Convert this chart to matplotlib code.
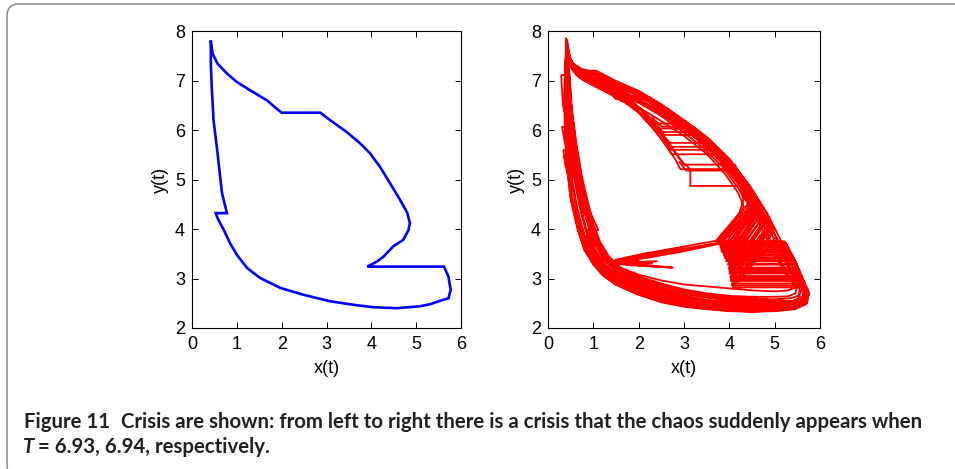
import numpy as np
import matplotlib
matplotlib.use('Agg')
import matplotlib.pyplot as plt
from matplotlib.patches import FancyBboxPatch

plt.rcParams['font.family'] = 'Liberation Sans'

# periodic orbit at T = 6.93 (x(t), y(t)), with the three impulsive jumps
blue_x = [0.42, 0.46, 0.57, 0.78, 1.00, 1.30, 1.67, 1.89, 2.00, 2.86, 3.08, 3.45,
          3.75, 3.97, 4.19, 4.42, 4.64, 4.80, 4.86, 4.83, 4.71, 4.49, 4.27, 4.12,
          3.91, 5.62, 5.72, 5.77, 5.72, 5.57, 5.31, 5.09, 4.57, 4.05, 3.67, 3.08,
          2.49, 1.97, 1.52, 1.23, 1.00, 0.85, 0.71, 0.57, 0.53, 0.78, 0.67, 0.57,
          0.48, 0.44, 0.42, 0.42]
blue_y = [7.78, 7.54, 7.34, 7.14, 6.97, 6.80, 6.60, 6.43, 6.35, 6.35, 6.20, 5.96,
          5.73, 5.53, 5.26, 4.92, 4.59, 4.33, 4.12, 3.98, 3.78, 3.65, 3.44, 3.34,
          3.24, 3.24, 3.04, 2.77, 2.60, 2.56, 2.48, 2.44, 2.40, 2.42, 2.46, 2.54,
          2.67, 2.81, 3.01, 3.21, 3.48, 3.71, 3.98, 4.22, 4.32, 4.32, 4.72, 5.53,
          6.20, 6.87, 7.34, 7.78]

# chaotic orbit at T = 6.94, one continuous stretch per sub-list
red_pieces = [
    [(0.40, 7.85), (0.44, 7.50), (0.56, 7.33), (0.72, 7.20), (1.06, 7.20), (1.50, 6.99),
     (2.00, 6.79), (2.50, 6.52), (3.00, 6.20), (3.50, 5.86), (4.00, 5.42), (4.45, 4.87),
     (4.82, 4.32), (4.98, 3.98), (4.60, 3.45), (4.05, 2.86), (5.62, 2.86), (5.76, 2.71),
     (5.70, 2.50), (5.45, 2.39), (5.00, 2.35), (4.50, 2.33), (4.00, 2.35), (3.50, 2.39),
     (3.00, 2.44), (2.50, 2.53), (2.00, 2.68), (1.50, 2.88), (1.20, 3.08), (1.00, 3.30),
     (0.80, 3.60), (0.66, 4.00), (0.51, 4.60), (0.43, 5.20), (0.38, 6.00), (0.37, 6.80),
     (0.39, 7.40),
     (0.41, 7.78), (0.47, 7.45), (0.60, 7.27), (0.85, 7.11), (1.20, 6.87), (1.52, 6.64),
     (2.08, 6.64), (2.50, 6.46), (3.00, 6.15), (3.50, 5.81), (4.00, 5.37), (4.42, 4.86),
     (4.76, 4.32), (4.90, 4.02), (4.55, 3.55), (4.02, 3.02), (5.58, 3.02), (5.73, 2.78),
     (5.68, 2.53), (5.44, 2.41), (5.00, 2.37), (4.50, 2.35), (4.00, 2.37), (3.50, 2.41),
     (3.00, 2.47), (2.50, 2.56), (2.00, 2.72), (1.50, 2.93), (1.20, 3.13), (1.00, 3.37),
     (0.84, 3.66), (1.08, 3.66), (0.92, 4.00), (0.70, 4.60), (0.56, 5.30), (0.47, 6.00),
     (0.43, 6.80), (0.43, 7.40),
     (0.42, 7.82), (0.46, 7.42), (0.55, 7.22), (0.66, 7.13), (1.00, 7.13), (1.50, 6.94),
     (2.00, 6.74), (2.50, 6.48), (3.00, 6.16), (3.50, 5.82), (4.00, 5.38), (4.40, 4.88),
     (4.70, 4.40), (4.80, 4.15), (4.45, 3.70), (4.00, 3.20), (5.52, 3.20), (5.68, 2.86),
     (5.66, 2.56), (5.42, 2.43), (5.00, 2.39), (4.50, 2.37), (4.00, 2.39), (3.50, 2.43),
     (3.00, 2.50), (2.50, 2.60), (2.00, 2.76), (1.50, 2.97), (1.20, 3.18), (0.98, 3.44),
     (0.80, 3.80), (0.66, 4.30), (0.52, 5.00), (0.44, 5.70), (0.40, 6.40), (0.40, 7.10),
     (0.43, 7.75), (0.50, 7.35), (0.66, 7.13), (1.00, 6.95), (1.50, 6.74), (1.95, 6.48),
     (2.20, 6.30), (2.37, 6.13), (3.09, 6.13), (3.50, 5.82), (4.00, 5.36), (4.35, 4.90),
     (4.60, 4.50), (4.62, 4.30), (4.30, 3.90), (3.88, 3.48), (5.38, 3.48), (5.55, 3.10),
     (5.70, 2.82), (5.64, 2.56), (5.40, 2.45), (5.00, 2.41), (4.50, 2.39), (4.00, 2.41),
     (3.50, 2.45), (3.00, 2.52), (2.50, 2.63), (2.00, 2.79), (1.50, 3.00), (1.22, 3.22),
     (1.00, 3.50), (0.86, 3.78), (1.10, 3.78), (0.95, 4.10), (0.75, 4.60), (0.60, 5.20),
     (0.50, 5.90), (0.45, 6.60), (0.44, 7.30),
     (0.42, 7.70), (0.48, 7.30), (0.64, 7.10), (1.00, 6.92), (1.50, 6.70), (1.90, 6.45),
     (2.20, 6.20), (2.42, 5.98), (2.58, 5.90), (3.39, 5.90), (3.70, 5.65), (4.05, 5.28),
     (4.35, 4.85), (4.52, 4.50), (4.50, 4.25), (4.20, 3.92), (3.80, 3.62), (5.30, 3.62),
     (5.50, 3.20), (5.67, 2.88), (5.66, 2.60), (5.46, 2.46), (5.00, 2.42), (4.50, 2.40),
     (4.00, 2.42), (3.50, 2.46), (3.00, 2.54), (2.50, 2.65), (2.00, 2.82), (1.55, 3.02),
     (1.25, 3.25), (1.02, 3.55), (0.84, 3.95), (0.70, 4.45), (0.56, 5.10), (0.47, 5.80),
     (0.44, 6.50), (0.43, 7.20),
     (0.45, 7.60), (0.58, 7.18), (0.85, 6.98), (1.30, 6.78), (1.80, 6.52), (2.20, 6.22),
     (2.50, 5.92), (2.69, 5.74), (3.57, 5.74), (3.95, 5.30), (4.25, 4.85), (4.42, 4.50),
     (4.35, 4.20), (4.05, 3.90), (3.75, 3.72), (3.00, 3.58), (2.20, 3.45), (1.70, 3.37),
     (1.35, 3.31), (2.75, 3.22), (1.75, 3.27), (2.40, 3.35), (1.60, 3.32)],
    [(0.44, 7.65), (0.55, 7.20), (0.80, 7.00), (1.20, 6.82), (1.70, 6.58), (2.10, 6.30),
     (2.45, 5.95), (2.75, 5.60), (3.00, 5.32), (3.14, 5.21), (3.14, 4.87), (4.25, 4.87),
     (4.31, 4.58), (4.22, 4.32), (4.00, 4.05), (3.73, 3.72), (5.25, 3.72), (5.45, 3.30),
     (5.62, 2.95), (5.70, 2.72), (5.60, 2.50), (5.40, 2.43), (5.00, 2.40), (4.50, 2.38),
     (4.00, 2.40), (3.50, 2.44), (3.00, 2.51), (2.50, 2.61), (2.00, 2.77), (1.50, 2.98),
     (1.20, 3.20), (0.97, 3.48), (0.80, 3.90), (0.65, 4.40), (0.53, 5.00), (0.45, 5.70),
     (0.41, 6.40), (0.41, 7.20),
     (0.40, 7.80), (0.45, 7.45), (0.58, 7.28), (0.80, 7.15), (1.20, 6.93), (1.62, 6.58),
     (2.02, 6.58), (2.50, 6.40), (3.00, 6.10), (3.50, 5.76), (4.00, 5.33), (4.40, 4.84),
     (4.72, 4.35), (4.86, 4.05), (4.50, 3.55), (4.03, 2.95), (5.60, 2.95), (5.74, 2.74),
     (5.69, 2.51), (5.44, 2.40), (5.00, 2.36), (4.50, 2.34), (4.00, 2.36), (3.50, 2.40),
     (3.00, 2.45), (2.50, 2.55), (2.00, 2.70), (1.50, 2.90), (1.20, 3.10), (1.00, 3.33),
     (0.81, 3.64), (0.67, 4.05), (0.53, 4.65), (0.44, 5.30), (0.39, 6.05), (0.38, 6.85),
     (0.40, 7.45),
     (0.43, 7.68), (0.52, 7.25), (0.75, 7.02), (1.10, 6.85), (1.60, 6.62), (2.00, 6.35),
     (2.35, 6.00), (2.60, 5.70), (2.80, 5.42), (2.92, 5.21), (4.07, 5.21), (4.30, 4.85),
     (4.48, 4.50), (4.52, 4.25), (4.25, 3.80), (3.93, 3.35), (5.45, 3.35), (5.60, 3.00),
     (5.70, 2.78), (5.63, 2.55), (5.42, 2.47), (5.00, 2.47), (4.50, 2.45), (4.00, 2.47),
     (3.50, 2.52), (3.00, 2.60), (2.50, 2.72), (2.00, 2.90), (1.50, 3.10), (1.22, 3.32),
     (1.02, 3.62), (0.88, 3.98), (1.11, 3.98), (0.95, 4.30), (0.72, 4.80), (0.52, 5.20),
     (0.35, 5.46), (0.47, 5.46), (0.36, 5.80), (0.31, 6.06), (0.45, 6.06), (0.33, 6.50),
     (0.29, 7.11), (0.45, 7.11), (0.44, 7.40),
     (0.41, 7.74), (0.47, 7.38), (0.62, 7.18), (0.95, 7.00), (1.45, 6.80), (1.90, 6.55),
     (2.20, 6.28), (2.44, 6.03), (3.24, 6.03), (3.60, 5.74), (4.00, 5.32), (4.38, 4.84),
     (4.66, 4.38), (4.75, 4.12), (4.40, 3.62), (4.00, 3.10), (5.55, 3.10), (5.70, 2.82),
     (5.67, 2.54), (5.43, 2.42), (5.00, 2.38), (4.50, 2.36), (4.00, 2.38), (3.50, 2.42),
     (3.00, 2.48), (2.50, 2.58), (2.00, 2.74), (1.50, 2.95), (1.20, 3.15), (0.99, 3.40),
     (0.82, 3.72), (0.68, 4.15), (0.55, 4.80), (0.46, 5.50), (0.41, 6.20), (0.40, 7.00),
     (0.44, 7.62), (0.52, 7.28), (0.70, 7.06), (1.05, 6.90), (1.55, 6.66), (1.95, 6.40),
     (2.25, 6.10), (2.50, 5.82), (2.73, 5.51), (3.72, 5.51), (4.05, 5.15), (4.32, 4.76),
     (4.45, 4.45), (4.40, 4.18), (4.12, 3.88), (3.83, 3.55), (5.33, 3.55), (5.52, 3.15),
     (5.64, 2.90), (5.62, 2.65), (5.45, 2.55), (5.00, 2.52), (4.50, 2.52), (4.00, 2.55),
     (3.50, 2.62), (3.00, 2.70), (2.50, 2.82), (2.00, 2.98), (1.50, 3.18), (1.25, 3.40),
     (1.05, 3.72), (0.93, 4.05), (0.78, 4.55), (0.63, 5.15), (0.52, 5.85), (0.46, 6.55),
     (0.45, 7.25),
     (0.42, 7.72), (0.50, 7.32), (0.68, 7.10), (1.00, 6.94), (1.50, 6.72), (2.00, 6.46),
     (2.50, 6.18), (3.00, 5.88), (3.50, 5.52), (3.90, 5.12), (4.20, 4.72), (4.32, 4.45),
     (4.22, 4.18), (3.98, 3.95), (3.72, 3.75), (5.22, 3.75), (5.40, 3.40), (5.55, 3.05),
     (5.55, 2.85), (5.30, 2.76), (5.00, 2.74), (4.50, 2.76), (4.00, 2.80), (3.50, 2.84),
     (3.00, 2.88), (2.50, 2.96), (2.00, 3.08), (1.50, 3.25), (1.20, 3.48), (1.04, 3.75),
     (0.92, 4.10), (0.80, 4.55), (0.68, 5.10), (0.58, 5.70), (0.50, 6.40), (0.47, 7.10),
     (0.40, 7.84), (0.43, 7.55), (0.53, 7.36), (0.75, 7.23), (1.00, 7.17), (1.50, 6.98),
     (2.00, 6.78), (2.50, 6.51), (3.00, 6.19), (3.50, 5.85), (4.00, 5.41), (4.45, 4.87),
     (4.84, 4.31), (5.12, 3.80), (5.35, 3.32), (5.58, 2.93), (5.76, 2.72), (5.71, 2.49),
     (5.45, 2.38), (5.00, 2.34), (4.50, 2.33), (4.00, 2.34), (3.50, 2.38), (3.00, 2.43),
     (2.50, 2.52), (2.00, 2.67), (1.50, 2.87), (1.20, 3.07), (1.00, 3.28), (0.80, 3.58),
     (0.65, 4.00), (0.50, 4.60), (0.41, 5.30), (0.37, 6.00), (0.36, 6.80), (0.38, 7.40),
     (0.42, 7.76), (0.47, 7.47), (0.58, 7.30), (0.82, 7.16), (1.10, 7.08), (1.55, 6.92),
     (2.00, 6.74), (2.50, 6.47), (3.00, 6.14), (3.50, 5.79), (4.00, 5.35), (4.40, 4.84),
     (4.76, 4.30), (5.05, 3.80), (5.28, 3.32), (5.50, 2.95), (5.66, 2.74), (5.62, 2.54),
     (5.42, 2.44), (5.00, 2.44), (4.50, 2.43), (4.00, 2.45), (3.50, 2.49), (3.00, 2.56),
     (2.50, 2.67), (2.00, 2.84), (1.50, 3.05), (1.22, 3.27), (1.02, 3.56), (0.86, 3.90),
     (0.72, 4.40), (0.60, 5.00), (0.50, 5.70), (0.44, 6.40), (0.42, 7.10),
     (0.43, 7.66), (0.50, 7.36), (0.63, 7.20), (0.90, 7.06), (1.25, 6.93), (1.70, 6.74),
     (2.10, 6.55), (2.55, 6.30), (3.00, 6.02), (3.45, 5.70), (3.85, 5.32), (4.20, 4.90),
     (4.55, 4.40), (4.85, 3.90), (5.10, 3.40), (5.35, 3.00), (5.55, 2.78), (5.52, 2.60),
     (5.35, 2.52), (5.00, 2.49), (4.50, 2.48), (4.00, 2.50), (3.50, 2.55), (3.00, 2.63),
     (2.50, 2.75), (2.00, 2.92), (1.55, 3.12), (1.28, 3.35), (1.08, 3.65), (0.93, 4.00),
     (0.80, 4.45), (0.68, 5.00), (0.57, 5.65), (0.49, 6.35), (0.46, 7.00),
     (0.41, 7.80), (0.46, 7.50), (0.57, 7.31), (0.78, 7.18), (1.05, 7.10), (1.50, 6.90),
     (1.98, 6.70), (2.45, 6.44), (2.95, 6.12), (3.45, 5.78), (3.95, 5.36), (4.35, 4.88),
     (4.68, 4.40), (4.72, 4.20), (4.35, 3.75), (3.98, 3.30), (5.46, 3.30), (5.62, 2.98),
     (5.69, 2.76), (5.64, 2.55), (5.43, 2.45), (5.00, 2.45), (4.50, 2.44), (4.00, 2.46),
     (3.50, 2.50), (3.00, 2.58), (2.50, 2.70), (2.00, 2.87), (1.50, 3.08), (1.20, 3.30),
     (1.00, 3.60), (0.85, 3.95), (0.74, 4.40), (0.63, 5.00), (0.54, 5.70), (0.47, 6.40),
     (0.44, 7.10),
     (0.42, 7.74), (0.49, 7.40), (0.62, 7.22), (0.88, 7.08), (1.30, 6.91), (1.80, 6.70),
     (2.30, 6.44), (2.80, 6.14), (3.30, 5.80), (3.80, 5.39), (4.20, 4.93), (4.52, 4.45),
     (4.62, 4.22), (4.30, 3.80), (3.95, 3.40), (5.42, 3.40), (5.60, 3.02), (5.70, 2.80),
     (5.66, 2.58), (5.46, 2.48), (5.00, 2.50), (4.50, 2.50), (4.00, 2.52), (3.50, 2.57),
     (3.00, 2.66), (2.50, 2.78), (2.00, 2.95), (1.50, 3.15), (1.24, 3.36), (1.05, 3.66),
     (0.90, 4.02), (0.78, 4.50), (0.66, 5.05), (0.56, 5.72), (0.48, 6.42), (0.45, 7.05),
     (0.43, 7.70), (0.51, 7.34), (0.67, 7.16), (0.95, 7.02), (1.50, 6.85), (2.00, 6.62),
     (2.50, 6.36), (3.00, 6.06), (3.50, 5.72), (3.95, 5.30), (4.30, 4.86), (4.60, 4.40),
     (4.90, 3.95), (5.20, 3.40), (5.45, 3.00), (5.60, 2.80), (5.55, 2.66), (5.35, 2.60),
     (5.00, 2.58), (4.50, 2.58), (4.00, 2.60), (3.50, 2.66), (3.00, 2.74), (2.50, 2.86),
     (2.00, 3.00), (1.55, 3.20), (1.30, 3.42), (1.10, 3.70), (0.96, 4.05), (0.84, 4.50),
     (0.72, 5.00), (0.60, 5.70), (0.51, 6.40), (0.47, 7.00),
     (0.42, 7.66), (0.50, 7.32), (0.65, 7.15), (0.95, 7.00), (1.50, 6.78), (2.00, 6.55),
     (2.50, 6.28), (2.95, 5.98), (3.40, 5.66), (3.85, 5.26), (4.20, 4.82), (4.50, 4.38),
     (4.80, 3.88), (5.05, 3.40), (5.30, 3.02), (5.48, 2.82), (5.46, 2.70), (5.30, 2.64),
     (5.00, 2.63), (4.50, 2.63), (4.00, 2.65), (3.50, 2.70), (3.00, 2.78), (2.50, 2.90),
     (2.00, 3.04), (1.60, 3.22), (1.35, 3.44), (1.15, 3.74), (1.00, 4.10), (0.88, 4.55),
     (0.75, 5.05), (0.63, 5.70), (0.53, 6.40), (0.48, 7.05),
     (0.41, 7.79), (0.46, 7.46), (0.60, 7.26), (0.85, 7.12), (1.50, 6.88), (2.00, 6.68),
     (2.50, 6.42), (3.00, 6.11), (3.50, 5.77), (4.00, 5.34), (4.42, 4.82), (4.80, 4.26),
     (5.08, 3.76), (5.30, 3.30), (5.52, 2.94), (5.68, 2.74), (5.64, 2.56), (5.44, 2.50),
     (5.00, 2.54), (4.50, 2.55), (4.00, 2.57), (3.50, 2.62), (3.00, 2.70), (2.50, 2.80),
     (2.00, 2.96), (1.55, 3.16), (1.28, 3.38), (1.08, 3.68), (0.94, 4.02), (0.82, 4.48),
     (0.70, 5.02), (0.59, 5.70), (0.50, 6.42), (0.46, 7.10),
     (0.42, 7.74), (0.48, 7.42), (0.62, 7.24), (0.90, 7.10), (1.50, 6.82), (2.00, 6.60),
     (2.50, 6.33), (3.00, 6.03), (3.50, 5.69), (3.95, 5.28), (4.30, 4.85), (4.55, 4.45),
     (4.75, 4.10), (4.40, 3.65), (4.00, 3.18), (5.53, 3.18), (5.67, 2.90), (5.66, 2.62),
     (5.48, 2.53), (5.00, 2.56), (4.50, 2.60), (4.00, 2.62), (3.50, 2.68), (3.00, 2.76),
     (2.50, 2.88), (2.00, 3.02), (1.55, 3.22), (1.30, 3.44), (1.12, 3.72), (0.98, 4.08),
     (0.86, 4.52), (0.74, 5.02), (0.62, 5.70), (0.52, 6.42), (0.47, 7.08),
     (0.44, 7.64), (0.54, 7.26), (0.76, 7.06), (1.15, 6.88), (1.70, 6.62), (2.10, 6.36),
     (2.45, 6.02), (2.70, 5.70), (2.90, 5.42), (3.00, 5.30), (4.12, 5.30), (4.32, 4.95),
     (4.48, 4.60), (4.45, 4.35), (4.15, 4.00), (3.80, 3.72), (3.10, 3.62), (2.40, 3.52),
     (1.80, 3.42), (1.40, 3.35), (2.30, 3.30), (1.50, 3.29), (2.00, 3.36)],
    # late returns that fan into the lower-right jumps
    [(4.95, 3.92), (4.06, 2.90), (5.61, 2.90), (5.74, 2.72)],
    [(4.85, 4.08), (4.03, 3.05), (5.57, 3.05), (5.72, 2.78)],
    [(4.78, 4.20), (4.00, 3.15), (5.54, 3.15), (5.70, 2.80)],
    [(4.70, 4.30), (3.97, 3.28), (5.48, 3.28), (5.68, 2.85)],
    [(4.60, 4.45), (3.90, 3.42), (5.42, 3.42), (5.66, 2.90)],
    [(4.55, 4.50), (3.85, 3.52), (5.36, 3.52), (5.64, 2.92)],
    [(4.50, 4.55), (3.80, 3.66), (5.28, 3.66), (5.60, 2.95)],
    [(5.02, 3.82), (4.08, 2.82), (5.63, 2.82), (5.76, 2.70)],
    [(4.92, 3.98), (4.05, 2.98), (5.59, 2.98), (5.73, 2.76)],
    [(4.82, 4.14), (4.02, 3.12), (5.56, 3.12), (5.71, 2.79)],
    [(4.74, 4.25), (3.99, 3.22), (5.51, 3.22), (5.69, 2.83)],
    [(4.66, 4.36), (3.95, 3.36), (5.45, 3.36), (5.67, 2.87)],
    [(4.58, 4.47), (3.88, 3.46), (5.40, 3.46), (5.65, 2.90)],
    [(4.52, 4.52), (3.82, 3.58), (5.33, 3.58), (5.62, 2.93)],
    [(4.46, 4.58), (3.77, 3.69), (5.26, 3.69), (5.58, 2.96)],
    [(4.88, 4.02), (4.04, 3.00), (5.58, 3.00), (5.73, 2.77)],
    [(4.63, 4.40), (3.93, 3.39), (5.44, 3.39), (5.66, 2.88)],
    # returns that miss the jump and run back along the lower inner path
    [(4.38, 4.30), (4.10, 3.98), (3.78, 3.70), (3.00, 3.55), (2.20, 3.42), (1.55, 3.33),
     (1.38, 3.30), (2.55, 3.24)],
    [(4.30, 4.40), (4.00, 4.08), (3.70, 3.76), (2.90, 3.63), (2.10, 3.50), (1.50, 3.38),
     (2.10, 3.30), (1.65, 3.34)],
    # extra upper jumps
    [(2.30, 6.25), (2.50, 6.07), (3.20, 6.07), (3.55, 5.80)],
    [(2.55, 5.80), (2.65, 5.66), (3.62, 5.66), (3.95, 5.30)],
    [(2.90, 5.35), (3.05, 5.18), (4.10, 5.18), (4.30, 4.90)],
    [(2.40, 6.10), (2.52, 5.96), (3.30, 5.96), (3.65, 5.70)],
    [(2.60, 5.74), (2.70, 5.60), (3.68, 5.60), (4.00, 5.24)],
    [(0.58, 7.25), (0.68, 7.17), (1.02, 7.17), (1.40, 7.00)],
    [(0.62, 7.12), (0.70, 7.05), (1.10, 7.05), (1.50, 6.86)],
    [(1.30, 6.82), (1.45, 6.68), (2.05, 6.68), (2.50, 6.49)],
    [(1.35, 6.78), (1.50, 6.62), (2.10, 6.62), (2.55, 6.42)],
    # small jumps on the left branch
    [(1.18, 3.25), (0.95, 3.62), (0.84, 3.86), (1.08, 3.86), (0.93, 4.20)],
    [(0.50, 4.90), (0.38, 5.30), (0.34, 5.60), (0.47, 5.60)],
]

fig = plt.figure(figsize=(9.55, 4.69), dpi=100)

# rounded frame around figure and caption
frame = FancyBboxPatch((7, -8), 980, 473, boxstyle='round,pad=0,rounding_size=12',
                       transform=None, fill=False, edgecolor='#8a8a8a', linewidth=1.1)
fig.patches.append(frame)

ax1 = fig.add_axes([192 / 955, 1 - 328 / 469, 269 / 955, 297 / 469])
ax2 = fig.add_axes([548 / 955, 1 - 328 / 469, 272 / 955, 297 / 469])

ax1.plot(blue_x, blue_y, color='#0000ff', linewidth=1.9, solid_joinstyle='miter')

red_x, red_y = [], []
for piece in red_pieces:
    px, py = zip(*piece)
    red_x += list(px) + [np.nan]
    red_y += list(py) + [np.nan]
ax2.plot(red_x, red_y, color='#ff0000', linewidth=1.3)

for ax in (ax1, ax2):
    ax.set_xlim(0, 6)
    ax.set_ylim(2, 8)
    ax.set_xticks(range(0, 7))
    ax.set_yticks(range(2, 9))
    ax.tick_params(direction='in', top=True, right=True, length=4, width=0.7,
                   labelsize=13, colors='black')
    ax.tick_params(axis='x', pad=6)
    ax.tick_params(axis='y', pad=5)
    for s in ax.spines.values():
        s.set_linewidth(0.8)
    ax.set_xlabel('x(t)', fontsize=13, labelpad=5)
    ax.set_ylabel('y(t)', fontsize=13, labelpad=4)

# caption, sized so the first line spans the frame width
cap_kw = dict(fontweight='bold', family=['Lato', 'DejaVu Sans'], va='baseline',
              color='#231f20')
head = 'Figure 11'
line1 = 'Crisis are shown: from left to right there is a crisis that the chaos suddenly appears when'
renderer = fig.canvas.get_renderer()
probe_a = fig.text(0, 0, head, fontsize=10, **cap_kw)
probe_b = fig.text(0, 0, line1, fontsize=10, **cap_kw)
w_a = probe_a.get_window_extent(renderer).width
w_b = probe_b.get_window_extent(renderer).width
probe_a.remove()
probe_b.remove()
cap_size = 10 * (926 - 24 - 11) / (w_a + w_b)

t_head = fig.text(24 / 955, 41 / 469, head, fontsize=cap_size, **cap_kw)
x_head = t_head.get_window_extent(renderer).x1
fig.text((x_head + 11) / 955, 41 / 469, line1, fontsize=cap_size, **cap_kw)
t_sym = fig.text(23 / 955, 16 / 469, 'T', fontsize=cap_size, style='italic', **cap_kw)
x_sym = t_sym.get_window_extent(renderer).x1
fig.text((x_sym + 4) / 955, 16 / 469, '= 6.93, 6.94, respectively.', fontsize=cap_size,
         **cap_kw)

fig.savefig('out.png', dpi=100)
